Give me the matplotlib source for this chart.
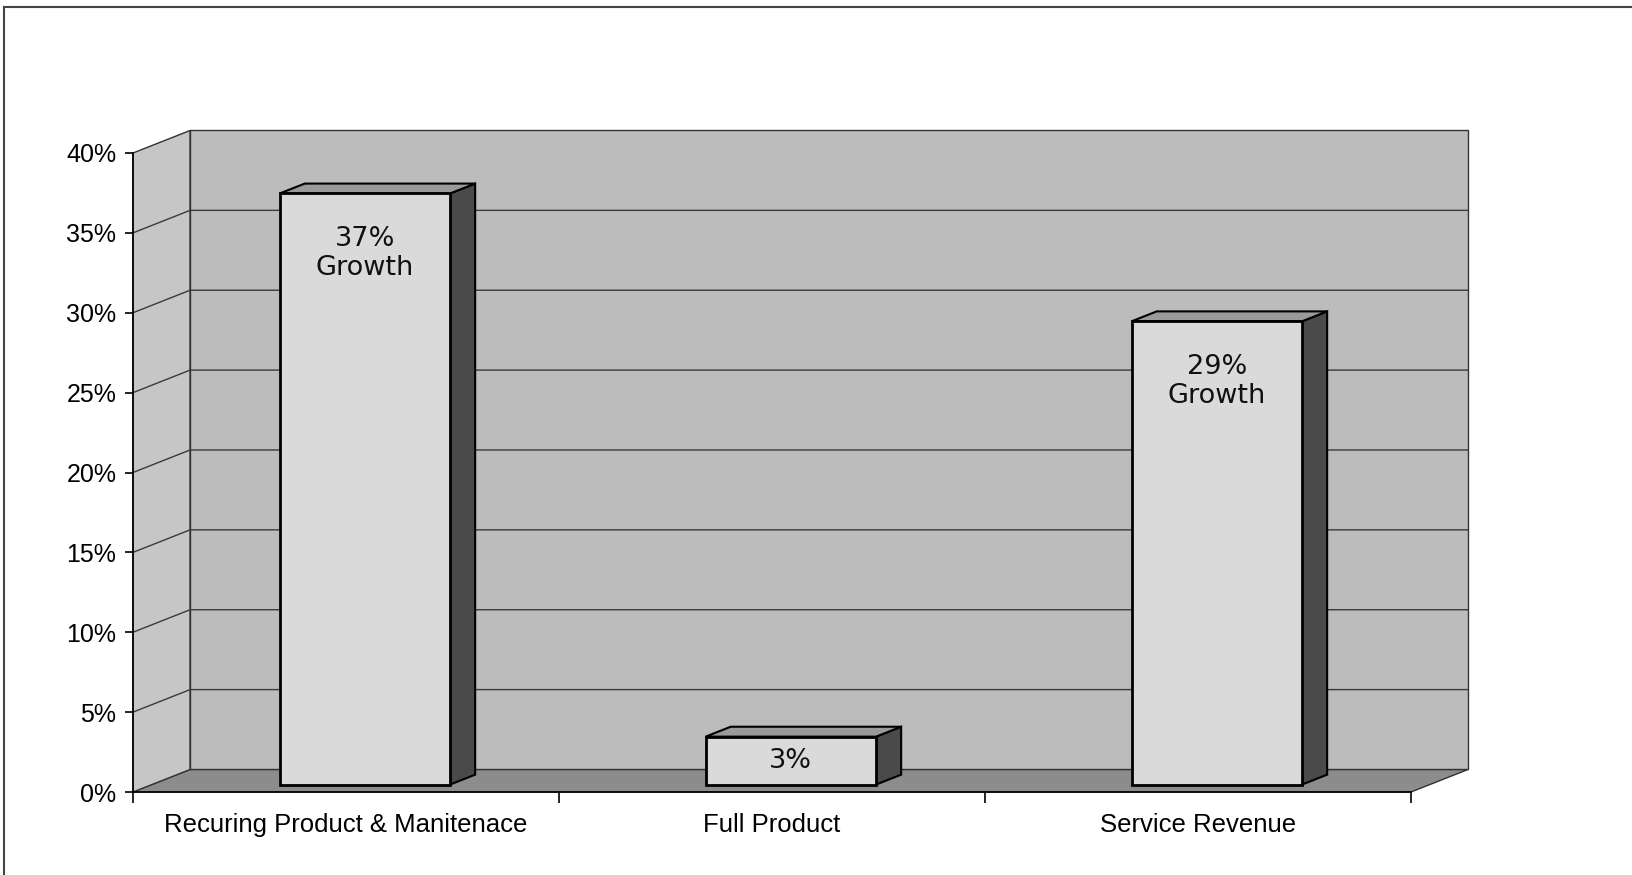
import matplotlib
matplotlib.use("Agg")
import matplotlib.pyplot as plt
from matplotlib.patches import Polygon, Rectangle
from matplotlib.lines import Line2D

categories = ["Recuring Product & Manitenace", "Full Product", "Service Revenue"]
growth = [37, 3, 29]
bar_text = ["37%\nGrowth", "3%", "29%\nGrowth"]
y_ticks = [0, 5, 10, 15, 20, 25, 30, 35, 40]
y_labels = [f"{t}%" for t in y_ticks]

# oblique "3d" offsets in data units
dx, dy = 0.134, 1.41
f_front, f_back = 0.33, 0.77
bar_w = 0.40
n = len(categories)
ymax = y_ticks[-1]

fig = plt.figure(figsize=(16.33, 8.75), dpi=100)
ax = fig.add_axes([133 / 1633, 83 / 875, 1278 / 1633, 639 / 875])
ax.set_xlim(0, n)
ax.set_ylim(0, ymax)
ax.set_facecolor("none")

# walls and floor
ax.add_patch(Polygon([(0, 0), (n, 0), (n + dx, dy), (dx, dy)],
                     fc="#8c8c8c", ec="#333333", lw=1, clip_on=False, zorder=1))
ax.add_patch(Polygon([(0, 0), (dx, dy), (dx, ymax + dy), (0, ymax)],
                     fc="#c6c6c6", ec="#333333", lw=1, clip_on=False, zorder=1))
ax.add_patch(Rectangle((dx, dy), n, ymax, fc="#bcbcbc", ec="#333333", lw=1,
                       clip_on=False, zorder=1))
for t in y_ticks[1:-1]:
    ax.plot([0, dx, n + dx], [t, t + dy, t + dy], color="#3a3a3a", lw=1,
            clip_on=False, zorder=1.5)

# bars
for i, v in enumerate(growth):
    x0 = i + 0.5 - bar_w / 2
    x1 = i + 0.5 + bar_w / 2
    a = (f_front * dx, f_front * dy)
    b = (f_back * dx, f_back * dy)
    front = Rectangle((x0 + a[0], a[1]), bar_w, v, fc="#dadada", ec="black",
                      lw=2, clip_on=False, zorder=3)
    top = Polygon([(x0 + a[0], v + a[1]), (x1 + a[0], v + a[1]),
                   (x1 + b[0], v + b[1]), (x0 + b[0], v + b[1])],
                  fc="#9a9a9a", ec="black", lw=1.5, clip_on=False, zorder=2.8)
    side = Polygon([(x1 + a[0], a[1]), (x1 + b[0], b[1]),
                    (x1 + b[0], v + b[1]), (x1 + a[0], v + a[1])],
                   fc="#4a4a4a", ec="black", lw=1.5, clip_on=False, zorder=2.8)
    ax.add_patch(side)
    ax.add_patch(top)
    ax.add_patch(front)
    if v > 10:
        ty = v - 3.3
    else:
        ty = v / 2 + a[1]
    ax.text(i + 0.5 + a[0], ty, bar_text[i], ha="center", va="center",
            fontsize=19.5, family="DejaVu Sans", color="#111111", zorder=4,
            linespacing=1.15)

# axes
for s in ["top", "right"]:
    ax.spines[s].set_visible(False)
for s in ["left", "bottom"]:
    ax.spines[s].set_linewidth(1.2)
    ax.spines[s].set_zorder(2)

ax.set_yticks(y_ticks, y_labels)
ax.tick_params(axis="y", direction="out", length=6, width=1.2, pad=6,
               labelsize=18)
ax.set_xticks(range(n + 1), [""] * (n + 1))
ax.set_xticks([i + 0.5 for i in range(n)], categories, minor=True)
ax.tick_params(axis="x", which="major", direction="out", length=8, width=1.2)
ax.tick_params(axis="x", which="minor", length=0, pad=15, labelsize=18.5)
for lab in ax.get_xticklabels(minor=True) + ax.get_yticklabels():
    lab.set_family("Liberation Sans")

# outer frame
fig.add_artist(Line2D([4 / 1633, 1], [1 - 7 / 875, 1 - 7 / 875],
                      transform=fig.transFigure, color="#444444", lw=1.5))
fig.add_artist(Line2D([4 / 1633, 4 / 1633], [0, 1 - 7 / 875],
                      transform=fig.transFigure, color="#444444", lw=1.5))

fig.savefig("out.png", dpi=100)
